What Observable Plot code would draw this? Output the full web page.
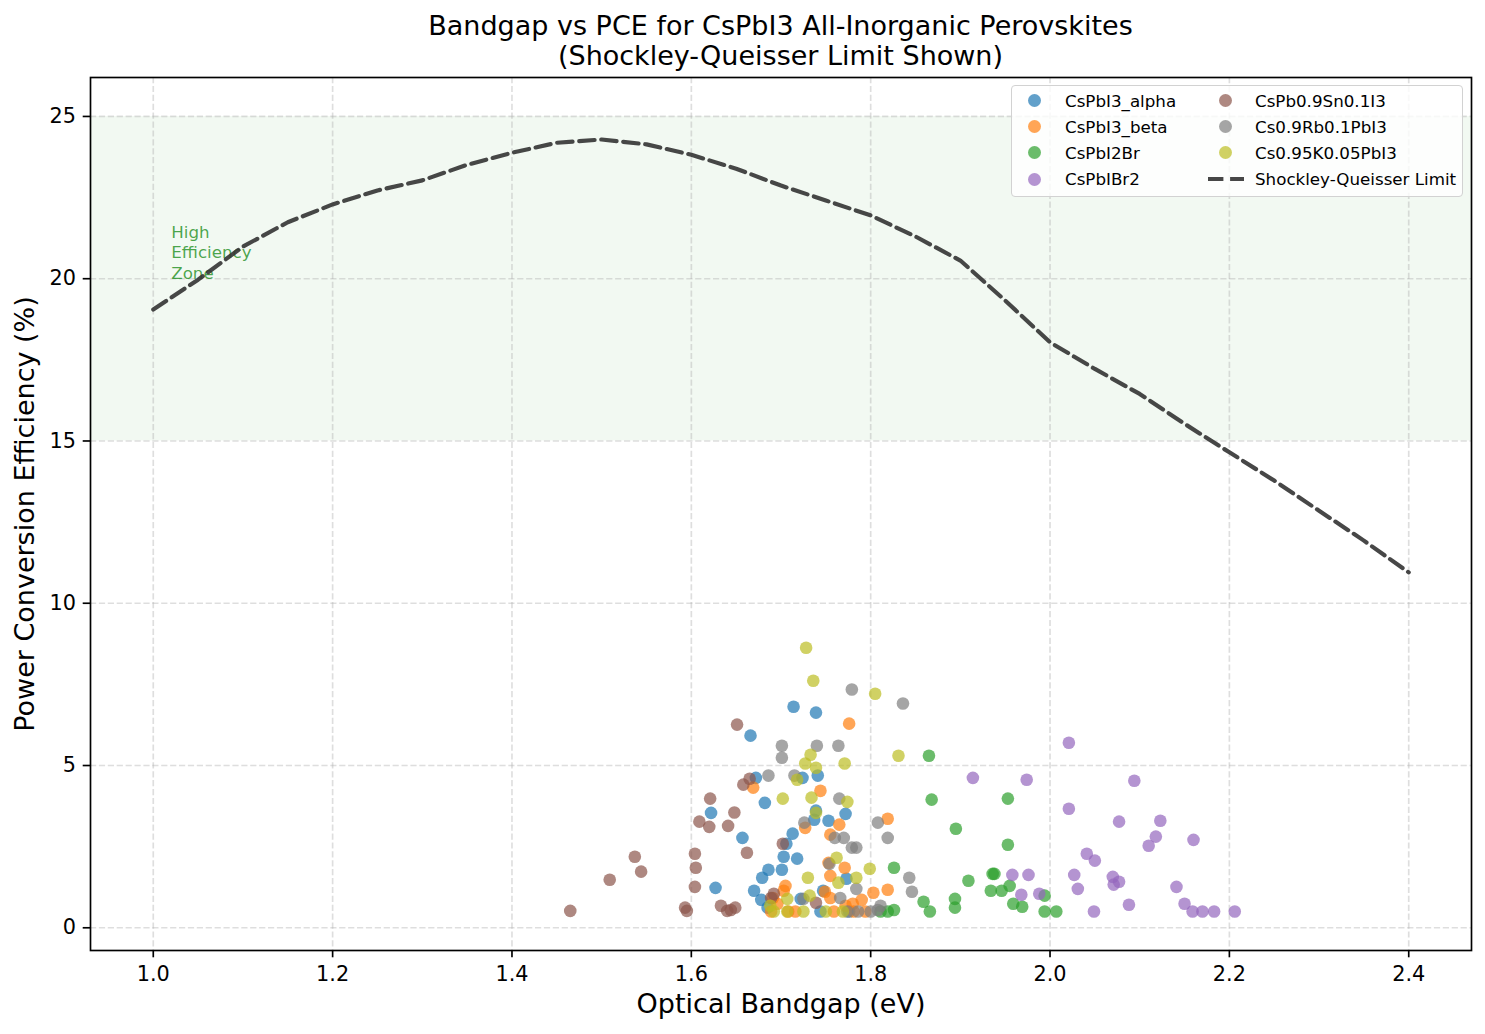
<!DOCTYPE html>
<html>
<head>
<meta charset="utf-8">
<script src="https://cdn.jsdelivr.net/npm/d3@7"></script>
<script src="https://cdn.jsdelivr.net/npm/@observablehq/plot@0.6"></script>
<style>
  body { margin: 0; background: #fff; }
  #wrap { position: relative; width: 1485px; height: 1034px; font-family: "DejaVu Sans", sans-serif; color: #000; background: #fff; }
  #title { box-sizing: border-box; width: 1485px; height: 71px; padding-top: 11px; padding-left: 76px; text-align: center; font-size: 27px; line-height: 30px; }
  #legend { position: absolute; left: 1011px; top: 85px; width: 452px; height: 112px; box-sizing: border-box; border: 1.3px solid #d2d2d2; border-radius: 4px; background: rgba(255,255,255,0.8); }
  .lg-text { position: absolute; font-size: 16.7px; height: 20px; line-height: 20px; white-space: nowrap; }
  .lg-dot { position: absolute; width: 13px; height: 13px; border-radius: 50%; opacity: 0.7; }
  .lg-line { position: absolute; }
</style>
</head>
<body>
<div id="wrap">
  <div id="title">Bandgap vs PCE for CsPbI3 All-Inorganic Perovskites<br>(Shockley-Queisser Limit Shown)</div>
  <div id="chart"></div>
  <div id="legend"></div>
</div>
<script>
// ---- Data (bandgap eV, PCE %) ----
const seriesNames = ["CsPbI3_alpha", "CsPbI3_beta", "CsPbI2Br", "CsPbIBr2", "CsPb0.9Sn0.1I3", "Cs0.9Rb0.1PbI3", "Cs0.95K0.05PbI3"];
const seriesColors = ["#1f77b4", "#ff7f0e", "#2ca02c", "#9467bd", "#8c564b", "#7f7f7f", "#bcbd22"];

const alphaPts = [[1.714,6.81],[1.739,6.63],[1.666,5.92],[1.672,4.62],[1.724,4.62],[1.741,4.69],[1.622,3.54],[1.682,3.85],[1.739,3.61],[1.737,3.33],[1.772,3.51],[1.753,3.30],[1.657,2.77],[1.713,2.90],[1.706,2.59],[1.703,2.19],[1.718,2.13],[1.686,1.79],[1.701,1.79],[1.679,1.54],[1.627,1.23],[1.670,1.14],[1.678,0.86],[1.747,1.14],[1.773,1.51],[1.722,0.89],[1.744,0.50],[1.685,0.62],[1.776,0.50]];
const betaPts = [[1.776,6.29],[1.669,4.32],[1.744,4.22],[1.819,3.36],[1.765,3.18],[1.755,2.87],[1.727,3.08],[1.753,2.00],[1.771,1.85],[1.755,1.60],[1.705,1.29],[1.703,1.14],[1.803,1.08],[1.819,1.17],[1.749,1.11],[1.790,0.86],[1.755,0.92],[1.780,0.74],[1.691,0.92],[1.696,0.74],[1.689,0.50],[1.708,0.50],[1.759,0.50],[1.781,0.50],[1.794,0.50],[1.716,0.50],[1.772,0.68]];
const i2brPts = [[1.865,5.30],[1.868,3.95],[1.953,3.98],[1.895,3.05],[1.953,2.56],[1.826,1.85],[1.909,1.45],[1.936,1.66],[1.938,1.66],[1.934,1.14],[1.946,1.14],[1.955,1.29],[1.994,0.99],[1.859,0.80],[1.894,0.89],[1.894,0.62],[1.866,0.50],[1.959,0.74],[1.969,0.65],[1.994,0.50],[2.007,0.50],[1.826,0.55],[1.819,0.50],[1.811,0.50]];
const ibr2Pts = [[2.021,5.70],[1.914,4.62],[1.974,4.56],[2.021,3.67],[1.958,1.63],[1.976,1.63],[2.027,1.63],[1.968,1.02],[1.988,1.05],[2.031,1.20],[2.094,4.53],[2.077,3.27],[2.123,3.30],[2.118,2.81],[2.110,2.53],[2.160,2.71],[2.041,2.28],[2.050,2.07],[2.070,1.57],[2.071,1.33],[2.077,1.42],[2.141,1.26],[2.088,0.71],[2.150,0.74],[2.049,0.50],[2.159,0.50],[2.170,0.50],[2.183,0.50],[2.206,0.50]];
const snPts = [[1.651,6.26],[1.658,4.41],[1.665,4.59],[1.621,3.98],[1.648,3.55],[1.609,3.27],[1.620,3.11],[1.641,3.14],[1.662,2.31],[1.537,2.19],[1.604,2.28],[1.605,1.85],[1.544,1.73],[1.509,1.48],[1.604,1.26],[1.465,0.52],[1.593,0.62],[1.595,0.52],[1.633,0.68],[1.644,0.55],[1.649,0.62],[1.702,2.59],[1.692,1.05],[1.739,0.77],[1.689,0.92],[1.640,0.52]];
const rbPts = [[1.779,7.34],[1.836,6.91],[1.701,5.61],[1.740,5.61],[1.764,5.61],[1.701,5.24],[1.686,4.69],[1.715,4.69],[1.765,3.98],[1.726,3.24],[1.808,3.24],[1.819,2.77],[1.760,2.77],[1.770,2.77],[1.779,2.47],[1.784,2.47],[1.754,1.97],[1.784,1.20],[1.843,1.54],[1.846,1.11],[1.725,0.89],[1.766,0.92],[1.800,0.50],[1.808,0.55],[1.811,0.68],[1.774,0.50],[1.786,0.50]];
const kPts = [[1.728,8.63],[1.736,7.61],[1.805,7.21],[1.831,5.30],[1.733,5.33],[1.727,5.06],[1.739,4.93],[1.771,5.06],[1.718,4.56],[1.702,3.98],[1.734,4.01],[1.774,3.88],[1.739,3.54],[1.762,2.16],[1.799,1.82],[1.784,1.54],[1.730,1.54],[1.764,1.39],[1.707,0.89],[1.732,0.99],[1.692,0.50],[1.707,0.50],[1.725,0.50],[1.750,0.50],[1.769,0.50],[1.688,0.68]];

const sqBandgap = [1.00,1.05,1.10,1.15,1.20,1.25,1.30,1.35,1.40,1.45,1.50,1.55,1.60,1.65,1.70,1.75,1.80,1.85,1.90,1.95,2.00,2.05,2.10,2.15,2.20,2.25,2.30,2.35,2.40];
const sqPCE = [19.05,19.97,20.99,21.74,22.29,22.72,23.03,23.51,23.88,24.19,24.29,24.14,23.82,23.39,22.87,22.41,21.95,21.30,20.56,19.33,18.04,17.22,16.45,15.53,14.65,13.78,12.85,11.93,10.95];

const xTicks = [1.0, 1.2, 1.4, 1.6, 1.8, 2.0, 2.2, 2.4];
const yTicks = [0, 5, 10, 15, 20, 25];
const band = [{lo: 15, hi: 25}];
const note = [{x: 1.02, y: 20, t: "High\nEfficiency\nZone"}];
const sqLabel = "Shockley-Queisser Limit";

// ---- Build tables ----
const allPts = [alphaPts, betaPts, i2brPts, ibr2Pts, snPts, rbPts, kPts];
const dots = allPts.flatMap((pts, i) => pts.map(([x, y]) => ({x, y, name: seriesNames[i]})));
const sq = sqBandgap.map((x, i) => ({x, y: sqPCE[i]}));

const gridStyle = {stroke: "#b0b0b0", strokeOpacity: 0.42, strokeWidth: 1.67, strokeDasharray: "6.2,2.7"};

const chart = Plot.plot({
  width: 1485,
  height: 963,
  marginLeft: 90,
  marginRight: 14,
  marginTop: 6,
  marginBottom: 84,
  style: {fontFamily: "DejaVu Sans", background: "white", color: "black"},
  x: {domain: [0.93, 2.47]},
  y: {domain: [-0.7, 26.2]},
  color: {domain: seriesNames, range: seriesColors},
  marks: [
    Plot.rect(band, {y1: "lo", y2: "hi", fill: "green", fillOpacity: 0.05}),
    Plot.gridX(xTicks, gridStyle),
    Plot.gridY(yTicks, gridStyle),
    Plot.text(note, {x: "x", y: "y", text: "t", textAnchor: "start", lineAnchor: "bottom", lineHeight: 1.22, fontSize: 16.7, fill: "green", fillOpacity: 0.7}),
    Plot.dot(dots, {x: "x", y: "y", fill: "name", r: 6.3, fillOpacity: 0.7}),
    Plot.line(sq, {x: "x", y: "y", stroke: "#333333", strokeOpacity: 0.9, strokeWidth: 4.17, strokeDasharray: "15.4,6.7"}),
    Plot.axisX(xTicks, {tickSize: 7.3, tickPadding: 8.5, fontSize: 20.8, strokeWidth: 1.67, tickFormat: d3.format(".1f"), label: null}),
    Plot.axisY(yTicks, {tickSize: 7.3, tickPadding: 7.3, fontSize: 20.8, strokeWidth: 1.67, label: null}),
    Plot.frame({stroke: "black", strokeWidth: 1.67}),
    Plot.text(["Optical Bandgap (eV)"], {frameAnchor: "bottom", textAnchor: "middle", lineAnchor: "bottom", dy: 62, fontSize: 27, fill: "black"}),
    Plot.text(["Power Conversion Efficiency (%)"], {frameAnchor: "left", textAnchor: "middle", lineAnchor: "middle", rotate: -90, dx: -65, fontSize: 27, fill: "black"})
  ]
});
document.getElementById("chart").appendChild(chart);

// ---- Legend ----
const leg = document.getElementById("legend");
const entries = seriesNames.map((n, i) => ({type: "dot", name: n, color: seriesColors[i]}));
entries.push({type: "line", name: sqLabel});
entries.forEach((e, i) => {
  const col = i < 4 ? 0 : 1, row = i % 4;
  const cy = 14.5 + row * 26.2;
  const mx = col ? 213 : 22, tx = col ? 243 : 53;
  if (e.type === "dot") {
    const d = document.createElement("div");
    d.className = "lg-dot";
    d.style.left = (mx - 6.5) + "px";
    d.style.top = (cy - 6.5) + "px";
    d.style.background = e.color;
    leg.appendChild(d);
  } else {
    const ns = "http://www.w3.org/2000/svg";
    const s = document.createElementNS(ns, "svg");
    s.setAttribute("class", "lg-line");
    s.setAttribute("width", "36");
    s.setAttribute("height", "10");
    s.style.left = "196px";
    s.style.top = (cy - 5) + "px";
    const l = document.createElementNS(ns, "line");
    l.setAttribute("x1", "0"); l.setAttribute("x2", "36");
    l.setAttribute("y1", "5"); l.setAttribute("y2", "5");
    l.setAttribute("stroke", "#333333");
    l.setAttribute("stroke-opacity", "0.9");
    l.setAttribute("stroke-width", "4.17");
    l.setAttribute("stroke-dasharray", "15.4,6.7");
    s.appendChild(l);
    leg.appendChild(s);
  }
  const t = document.createElement("div");
  t.className = "lg-text";
  t.style.left = tx + "px";
  t.style.top = (cy - 10) + "px";
  t.textContent = e.name;
  leg.appendChild(t);
});
</script>
</body>
</html>
